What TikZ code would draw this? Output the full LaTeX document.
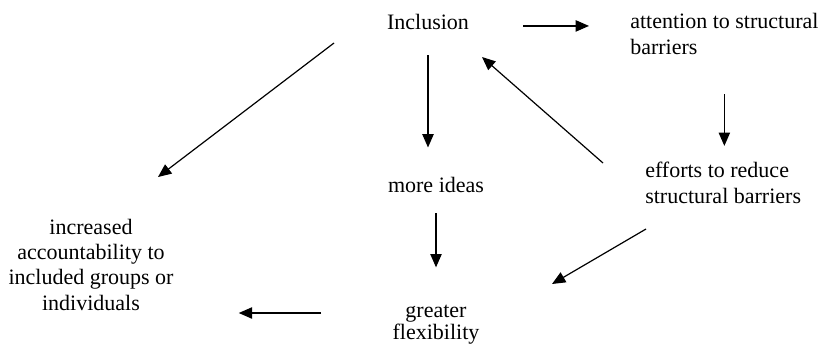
\documentclass[tikz,border=0pt]{standalone}
\usepackage{fontspec}
\setmainfont{Liberation Serif}
\usetikzlibrary{arrows.meta}
\tikzset{
  lbl/.style={inner sep=0pt, font=\fontsize{16.5pt}{19pt}\selectfont},
  arr/.style={-{Triangle[length=10pt,width=8.5pt]}, line width=0.9pt},
}

\begin{document}
\begin{tikzpicture}[x=0.75pt,y=0.75pt,yscale=-1,xscale=1]
\useasboundingbox (0,0) rectangle (827,344);
\node[lbl, anchor=base] (incl) at (428,29) {Inclusion};
\node[lbl, anchor=base west, align=left] (attn) at (630,54) {attention to structural\\barriers};
\node[lbl, anchor=base west, align=left] (eff) at (645,203) {efforts to reduce\\structural barriers};
\node[lbl, anchor=base] (ideas) at (436,192) {more ideas};
\node[lbl, anchor=base, align=center] (flex) at (436,339) {greater\\[-2.5pt]flexibility};
\node[lbl, anchor=base, align=center] (acc) at (91,310) {increased\\accountability to\\included groups or\\individuals};
% free ends of the slanted arrows
\coordinate (effup) at (603,163);
\coordinate (inclin) at (482,57);
\coordinate (effdn) at (646,229);
\coordinate (flexin) at (552,284);
\coordinate (incldn) at (334,43);
\coordinate (accin) at (158,177);
\coordinate (flexout) at (321,313);

\draw[arr, shorten <=40.5pt, shorten >=30.75pt] (incl.mid east) -- (incl.mid east -| attn.west);
\draw[arr, shorten <=19.5pt, shorten >=21.75pt] (incl.south) -- (incl.south |- ideas.north);
\draw[arr, shorten <=30pt, shorten >=12pt] (attn.south) -- (attn.south |- eff.north);
\draw[arr, shorten <=15.75pt, shorten >=27.75pt] (ideas.south) -- (ideas.south |- flex.north);
\draw[arr, shorten >=48.75pt] (flexout) -- (flexout -| acc.east);
\draw[arr] (effup) -- (inclin);
\draw[arr] (effdn) -- (flexin);
\draw[arr] (incldn) -- (accin);
\end{tikzpicture}
\end{document}
